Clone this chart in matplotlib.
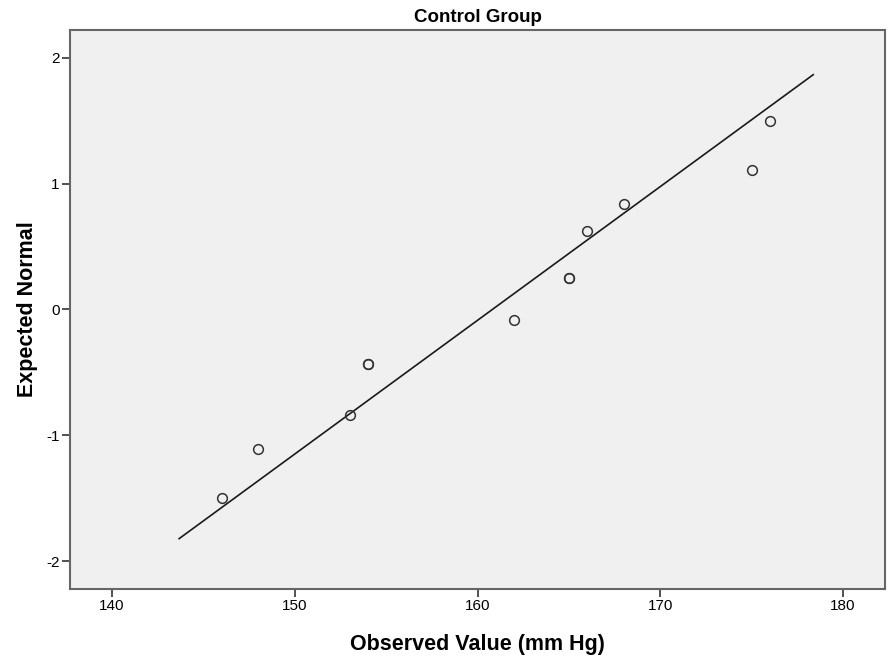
import matplotlib
matplotlib.use('Agg')
import matplotlib.pyplot as plt

observed = [146, 148, 153, 154, 154, 162, 165, 165, 166, 168, 175, 176]
expected = [-1.50, -1.11, -0.84, -0.43, -0.43, -0.08, 0.25, 0.25, 0.62, 0.84, 1.11, 1.50]

# reference line ends
line_x = [143.67, 178.37]
line_y = [-1.82, 1.865]

xticks = [140, 150, 160, 170, 180]
yticks = [-2, -1, 0, 1, 2]

plt.rcParams['font.family'] = ['Liberation Sans', 'DejaVu Sans']
plt.rcParams['axes.unicode_minus'] = False

fig = plt.figure(figsize=(8.91, 6.59), dpi=100)
ax = fig.add_axes([0.0786, 0.1062, 0.9147, 0.8483])
ax.set_facecolor('#f0f0f0')

ax.plot(line_x, line_y, color='#1a1a1a', lw=1.2, zorder=2)
ax.plot(observed, expected, 'o', ms=7, mfc='none', mec='#333333', mew=1.1, zorder=3)

ax.set_xlim(137.7, 182.3)
ax.set_ylim(-2.22, 2.22)
ax.set_xticks(xticks)
ax.set_yticks(yticks)
ax.tick_params(direction='out', length=6, width=1.2, color='#333333', labelsize=11, pad=1.5)

for sp in ax.spines.values():
    sp.set_color('#666666')
    sp.set_linewidth(1.5)

ax.set_title('Control Group', fontsize=13.5, fontweight='bold', pad=6)
ax.set_xlabel('Observed Value (mm Hg)', fontsize=15.5, fontweight='bold', labelpad=15)
ax.set_ylabel('Expected Normal', fontsize=15.5, fontweight='bold', labelpad=6)

fig.savefig('out.png', dpi=100)
